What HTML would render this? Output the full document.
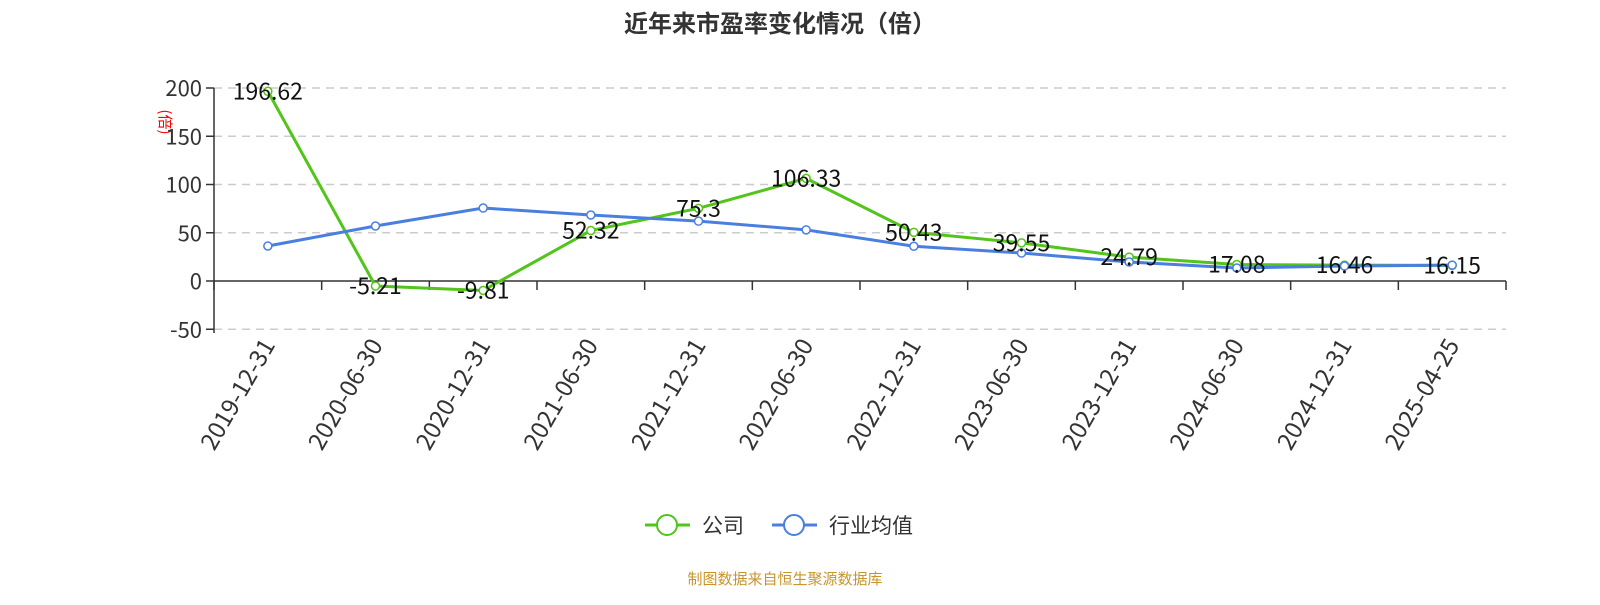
<!DOCTYPE html>
<html><head><meta charset="utf-8"><style>
body{margin:0;background:#fff;width:1600px;height:600px;overflow:hidden}
svg text{font-family:"Noto Sans CJK SC","Liberation Sans",sans-serif}
</style></head><body>
<svg id="s" width="1600" height="600" xmlns="http://www.w3.org/2000/svg">
<text x="780" y="32" text-anchor="middle" font-size="24" font-weight="bold" fill="#333">近年来市盈率变化情况（倍）</text>
<text x="160" y="122" font-size="15" fill="red" transform="rotate(90 160 122)" text-anchor="middle">(倍)</text>
<text x="785" y="584" text-anchor="middle" font-size="15" fill="#c8952c">制图数据来自恒生聚源数据库</text>
<g id="g"></g>
</svg>
<script>
const g=document.getElementById('g');let h='';
const X0=214,X1=1506,bw=(X1-X0)/12,Y=v=>281-v*0.965;
[200,150,100,50,0,-50].forEach(v=>{const y=Y(v);
 if(v!==0)h+=`<line x1="${X0}" x2="${X1}" y1="${y}" y2="${y}" stroke="#ccc" stroke-dasharray="8,6" stroke-width="1.5"/>`;
 h+=`<line x1="${X0-8}" x2="${X0}" y1="${y}" y2="${y}" stroke="#333" stroke-width="1.5"/>`;
 h+=`<text x="${X0-12}" y="${y+8}" text-anchor="end" font-size="22" fill="#333">${v}</text>`;});
h+=`<line x1="${X0}" x2="${X0}" y1="88" y2="333" stroke="#333" stroke-width="1.5"/>`;
h+=`<line x1="${X0}" x2="${X1}" y1="281" y2="281" stroke="#333" stroke-width="1.5"/>`;
const d=['2019-12-31','2020-06-30','2020-12-31','2021-06-30','2021-12-31','2022-06-30','2022-12-31','2023-06-30','2023-12-31','2024-06-30','2024-12-31','2025-04-25'];
for(let i=0;i<=12;i++){const x=X0+i*bw;h+=`<line x1="${x}" x2="${x}" y1="281" y2="290" stroke="#333" stroke-width="1.5"/>`;}
d.forEach((t,i)=>{const x=X0+bw*(i+.5)+8,y=345;h+=`<text x="${x}" y="${y}" text-anchor="end" font-size="24" fill="#333" transform="rotate(-60 ${x} ${y})">${t}</text>`;});
const c=[196.62,-5.21,-9.81,52.32,75.3,106.33,50.43,39.55,24.79,17.08,16.46,16.15];
const ind=[36.3,57,75.6,68.4,62,53,36,29,19.7,13.5,15.5,16.5];
function line(a,col){const p=a.map((v,i)=>`${X0+bw*(i+.5)},${Y(v)}`).join(' ');
 let s=`<polyline points="${p}" fill="none" stroke="${col}" stroke-width="3"/>`;
 a.forEach((v,i)=>s+=`<circle cx="${X0+bw*(i+.5)}" cy="${Y(v)}" r="4" fill="#fff" stroke="${col}" stroke-width="1.5"/>`);return s;}
h+=line(c,'#52c41a')+line(ind,'#4a7fe0');
c.forEach((v,i)=>h+=`<text x="${X0+bw*(i+.5)}" y="${Y(v)+8}" text-anchor="middle" font-size="23" fill="#111">${v}</text>`);
h+=`<line x1="645" x2="690" y1="525" y2="525" stroke="#52c41a" stroke-width="3"/><circle cx="667" cy="525" r="10" fill="#fff" stroke="#52c41a" stroke-width="2"/>
<text x="702" y="533" font-size="21" fill="#333">公司</text>
<line x1="772" x2="817" y1="525" y2="525" stroke="#4a7fe0" stroke-width="3"/><circle cx="794" cy="525" r="10" fill="#fff" stroke="#4a7fe0" stroke-width="2"/>
<text x="829" y="533" font-size="21" fill="#333">行业均值</text>`;
g.innerHTML=h;
</script>
</body></html>
